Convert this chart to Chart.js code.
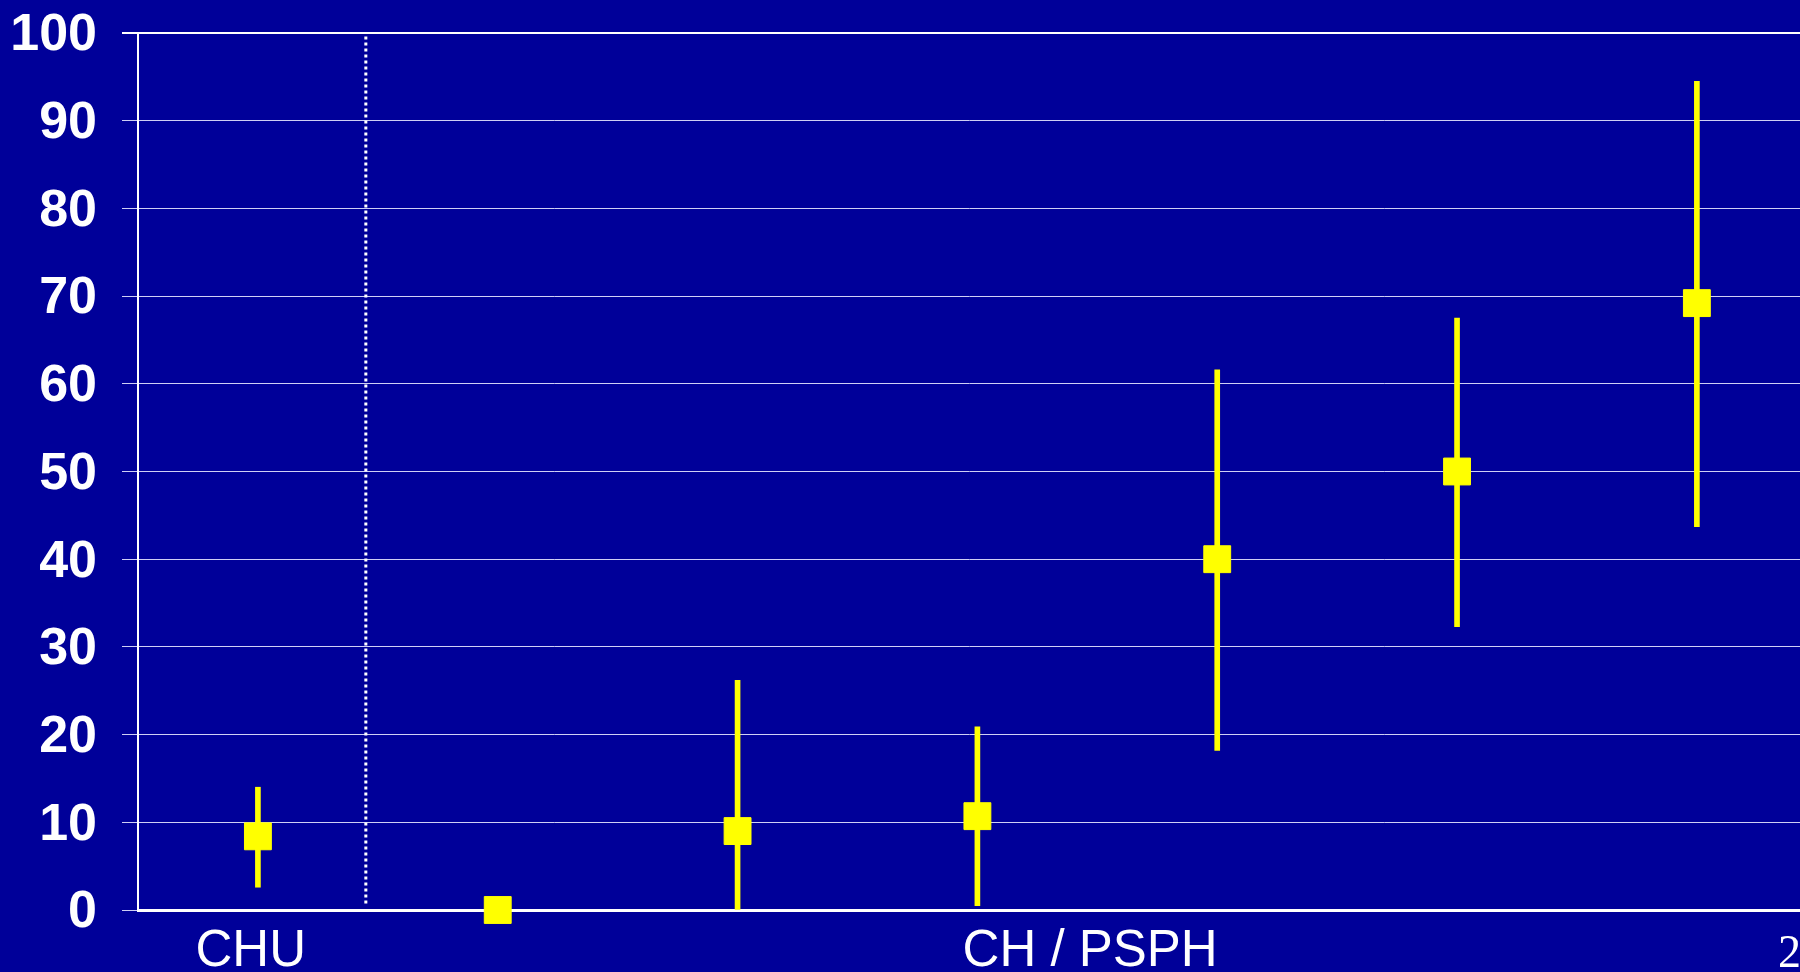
<!DOCTYPE html>
<html>
<head>
<meta charset="utf-8">
<script src="https://cdn.jsdelivr.net/npm/chart.js@4/dist/chart.umd.min.js"></script>
<style>
  body { margin: 0; background: #000099; overflow: hidden; }
  #wrap { position: relative; width: 1800px; height: 972px; }
  #pageNum {
    position: absolute; left: 1778px; top: 925px;
    font-family: 'Liberation Serif', serif; font-size: 46px; color: #ffffff;
  }
</style>
</head>
<body>
<div id="wrap">
  <canvas id="chart"></canvas>
  <div id="pageNum">2</div>
</div>
<script>
// values
const pointIndex = [0, 1, 2, 3, 4, 5, 6];
const values = [8.4, 0, 9.0, 10.7, 40, 50, 69.2];
const ciLow = [2.6, 0, 0, 0.5, 18.2, 32.3, 43.7];
const ciHigh = [14.0, 1.0, 26.2, 20.9, 61.6, 67.5, 94.5];

// group labels under the x axis and where they sit
const groupLabels = ['CHU', 'CH / PSPH'];
const groupPos = [-0.03, 3.47];
const dividerX = 0.45;

const yTicks = [0, 10, 20, 30, 40, 50, 60, 70, 80, 90, 100];

const yellow = '#ffff00';

const ctx = document.getElementById('chart').getContext('2d');
new Chart(ctx, {
  type: 'scatter',
  data: {
    datasets: [
      {
        // squares
        type: 'scatter',
        data: pointIndex.map((x, i) => ({ x: x, y: values[i] })),
        pointStyle: 'rect',
        pointRadius: 19,
        backgroundColor: yellow,
        borderColor: yellow,
        borderWidth: 1,
        clip: false,
        order: 0
      },
      {
        // error bars as floating bars
        type: 'bar',
        data: pointIndex.map((x, i) => ({ x: x, y: [ciLow[i], ciHigh[i]] })),
        backgroundColor: yellow,
        borderWidth: 0,
        barThickness: 5,
        order: 1
      },
      {
        // dotted separator
        type: 'line',
        data: [{ x: dividerX, y: 99.6 }, { x: dividerX, y: 0.4 }],
        borderColor: '#ffffff',
        borderWidth: 3,
        borderDash: [3, 3],
        pointRadius: 0,
        order: 2
      }
    ]
  },
  options: {
    responsive: true,
    maintainAspectRatio: false,
    animation: false,
    layout: { autoPadding: false, padding: { top: 33, right: 0, left: 0, bottom: 0 } },
    plugins: {
      legend: { display: false },
      tooltip: { enabled: false }
    },
    scales: {
      x: {
        type: 'linear',
        min: -0.5,
        max: 6.43,
        bounds: 'data',
        offset: false,
        afterBuildTicks: (scale) => {
          scale.ticks = groupPos.map(v => ({ value: v }));
        },
        afterFit: (scale) => {
          scale.height = 62;
          scale.paddingLeft = 0;
          scale.paddingRight = 0;
        },
        grid: { display: false, drawTicks: false, offset: false },
        border: { display: true, color: '#ffffff', width: 3 },
        ticks: {
          autoSkip: false,
          maxRotation: 0,
          padding: 11,
          color: '#ffffff',
          font: { family: "'Liberation Sans', Arial, sans-serif", size: 51 },
          callback: (value, index) => groupLabels[index]
        }
      },
      y: {
        min: 0,
        max: 100,
        afterBuildTicks: (scale) => {
          scale.ticks = yTicks.map(v => ({ value: v }));
        },
        afterFit: (scale) => {
          scale.width = 138;
          scale.paddingTop = 0;
          scale.paddingBottom = 0;
        },
        grid: {
          color: (c) => (c.tick && c.tick.value === 100) ? '#ffffff' : 'rgba(230,230,255,0.9)',
          lineWidth: (c) => (c.tick && c.tick.value === 100) ? 2 : 1,
          tickLength: 16
        },
        border: { display: true, color: '#ffffff', width: 2 },
        ticks: {
          padding: 25,
          labelOffset: 3,
          color: '#ffffff',
          font: { family: "'Liberation Sans', Arial, sans-serif", size: 52, weight: 'bold' }
        }
      }
    }
  }
});
</script>
</body>
</html>
